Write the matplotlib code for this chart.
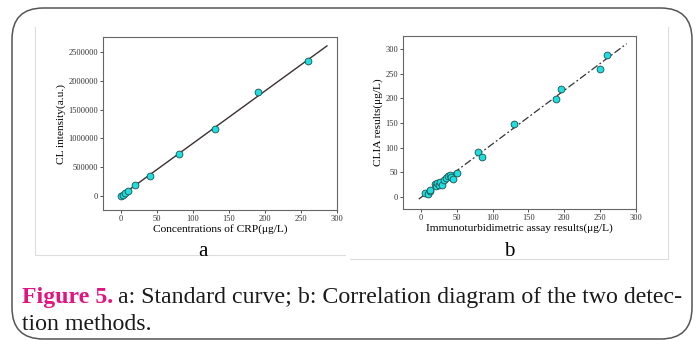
import numpy as np
import matplotlib.pyplot as plt
from matplotlib.patches import FancyBboxPatch
from matplotlib.lines import Line2D
from matplotlib.ticker import FuncFormatter

plt.rcParams['font.family'] = ['Liberation Serif', 'DejaVu Serif']

# 数据 (a: 标准曲线)
conc_a = [0, 2.5, 5, 10, 20, 40, 80, 130, 190, 260]
cl_a = [0, 20000, 45000, 90000, 185000, 340000, 735000, 1170000, 1805000, 2345000]
fit_a_x = [0, 286]
fit_a_slope, fit_a_icpt = 9140, 0

# 数据 (b: 相关图)
immuno_b = [6, 10, 12, 13, 20, 21, 22, 25, 27, 30, 32, 35, 38, 40, 42, 45, 50,
            80, 85, 130, 188, 195, 250, 260]
clia_b = [8, 5, 12, 13, 26, 21, 28, 23, 30, 24, 33, 38, 42, 44, 40, 37, 48,
          91, 80, 148, 199, 219, 259, 289]
fit_b_x = [-3, 287]
fit_b_slope, fit_b_icpt = 1.09, -1.5

W, H = 697, 340
fig = plt.figure(figsize=(W / 100, H / 100), dpi=100)


def box(x0, y0, x1, y1):
    return [x0 / W, 1 - y1 / H, (x1 - x0) / W, (y1 - y0) / H]


# 外框
fig.patches.append(FancyBboxPatch((12 / W, 1 / H), 680 / W, 331 / H,
                                  boxstyle='round,pad=0,rounding_size=0.045',
                                  transform=fig.transFigure, fill=False,
                                  edgecolor='#555555', lw=1.1,
                                  mutation_aspect=W / H))
# 浅灰色内框线
for xs, ys in [([35, 35, 345], [27, 255, 255]),
               ([350, 668, 668], [259, 259, 27])]:
    fig.add_artist(Line2D([x / W for x in xs], [1 - y / H for y in ys],
                          transform=fig.transFigure, color='#dddddd', lw=0.8))

cyan = '#20dede'
tick_fs = 6
lab_fs = 8.2
msize = 24

# 图 a
ax = fig.add_axes(box(103, 37, 337, 210))
xx = np.array(fit_a_x)
ax.plot(xx, fit_a_slope * xx + fit_a_icpt, color='#3a3030', lw=1.0, zorder=2)
ax.scatter(conc_a, cl_a, s=msize, color=cyan, edgecolor='#1a5050', lw=0.6, zorder=3)
ax.set_xlim(-25, 300)
ax.set_ylim(-250000, 2770000)
ax.set_xticks(range(0, 301, 50))
ax.set_yticks(range(0, 2500001, 500000))
ax.yaxis.set_major_formatter(FuncFormatter(lambda v, p: f'{int(v)}'))
ax.set_xlabel('Concentrations of CRP(μg/L)', fontsize=lab_fs, labelpad=1)
ax.set_ylabel('CL intensity(a.u.)', fontsize=lab_fs, labelpad=2)

# 图 b
bx = fig.add_axes(box(403, 36, 636, 209))
xx = np.array(fit_b_x)
bx.plot(xx, fit_b_slope * xx + fit_b_icpt, color='#333333', lw=0.9,
        linestyle=(0, (6, 2, 1.5, 2)), zorder=2)
bx.scatter(immuno_b, clia_b, s=msize, color=cyan, edgecolor='#1a5050', lw=0.6, zorder=3)
bx.set_xlim(-25, 300)
bx.set_ylim(-25, 327)
bx.set_xticks(range(0, 301, 50))
bx.set_yticks(range(0, 301, 50))
bx.set_xlabel('Immunoturbidimetric assay results(μg/L)', fontsize=lab_fs, labelpad=1)
bx.set_ylabel('CLIA results(μg/L)', fontsize=lab_fs, labelpad=2)

for a in (ax, bx):
    a.tick_params(labelsize=tick_fs, length=2, width=0.6, pad=1.5, colors='#333333')
    for s in a.spines.values():
        s.set_color('#666666')
        s.set_linewidth(0.8)

fig.text(203 / W, 1 - 252 / H, 'a', fontsize=15, ha='center', va='center')
fig.text(509 / W, 1 - 252 / H, 'b', fontsize=15, ha='center', va='center')

# 图注
cap_fs = 17.2
t1 = fig.text(22 / W, 1 - 297 / H, 'Figure 5.', fontsize=cap_fs, fontweight='bold',
              color='#e0157f', va='center')
fig.canvas.draw()
bb = t1.get_window_extent()
fig.text((bb.x1 + 5) / W, 1 - 297 / H,
         'a: Standard curve; b: Correlation diagram of the two detec-',
         fontsize=cap_fs, color='#1a1a1a', va='center')
fig.text(22 / W, 1 - 325 / H, 'tion methods.', fontsize=cap_fs,
         color='#1a1a1a', va='center')

fig.savefig('out.png', dpi=100)
